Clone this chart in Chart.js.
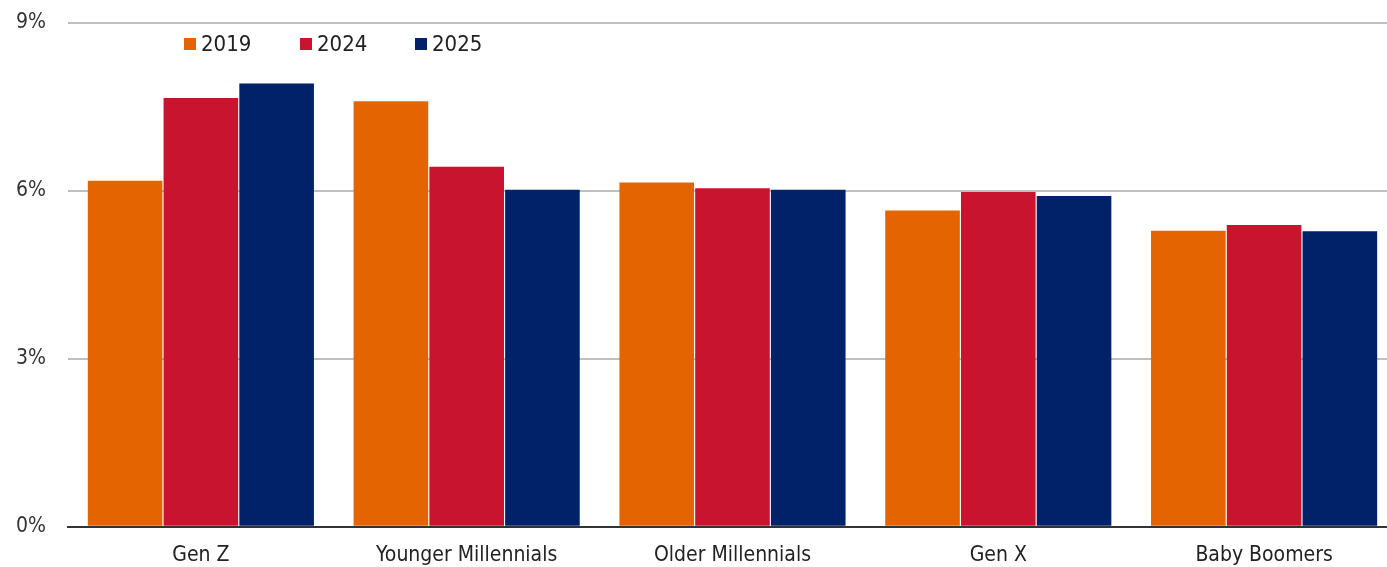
<!DOCTYPE html>
<html>
<head>
<meta charset="utf-8">
<script src="https://cdn.jsdelivr.net/npm/chart.js@4.4.1/dist/chart.umd.min.js"></script>
<style>
  html, body { margin: 0; padding: 0; background: #fff; overflow: hidden; }
  #wrap { position: relative; width: 1397px; height: 567px; }
</style>
</head>
<body>
<div id="wrap"><canvas id="graph"></canvas></div>
<script>
const categories = ["Gen Z", "Younger Millennials", "Older Millennials", "Gen X", "Baby Boomers"];
const years = ["2019", "2024", "2025"];
const values2019 = [6.18, 7.6, 6.15, 5.65, 5.29];
const values2024 = [7.66, 6.43, 6.05, 5.98, 5.39];
const values2025 = [7.92, 6.02, 6.02, 5.91, 5.28];
const yTicks = [0, 3, 6, 9];

const colors = ["#e36400", "#c8142f", "#012169"];
const fontFamily = "'Liberation Sans Narrow', 'DejaVu Sans Condensed', 'Noto Sans', sans-serif";

// legend row drawn inside the plot, left of centre
const topLegend = {
  id: "topLegend",
  afterDraw(chart) {
    const ctx = chart.ctx;
    const xs = [184, 300, 415];
    const y = 44;
    ctx.save();
    ctx.font = "22px " + fontFamily;
    ctx.textBaseline = "middle";
    chart.data.datasets.forEach((ds, i) => {
      ctx.fillStyle = ds.backgroundColor;
      ctx.fillRect(xs[i], y - 6, 12, 12);
      ctx.fillStyle = "#222";
      ctx.fillText(ds.label, xs[i] + 17, y + 1);
    });
    ctx.restore();
  },
};

const ctx = document.getElementById("graph").getContext("2d");

const chart = new Chart(ctx, {
  type: "bar",
  data: {
    labels: categories,
    datasets: [
      { label: years[0], backgroundColor: colors[0], data: values2019 },
      { label: years[1], backgroundColor: colors[1], data: values2024 },
      { label: years[2], backgroundColor: colors[2], data: values2025 },
    ],
  },
  options: {
    responsive: true,
    maintainAspectRatio: false,
    animation: false,
    layout: { padding: { top: 23, left: -6, right: 0, bottom: -17 } },
    datasets: {
      bar: { categoryPercentage: 0.855, barPercentage: 0.985 },
    },
    plugins: {
      legend: { display: false },
      tooltip: { enabled: false },
    },
    scales: {
      x: {
        grid: { display: false, drawTicks: false },
        border: { display: true, color: "#333", width: 2 },
        ticks: {
          padding: 16,
          color: "#222",
          font: { family: fontFamily, size: 21 },
        },
      },
      y: {
        min: 0,
        max: 9,
        afterBuildTicks(axis) {
          axis.ticks = yTicks.map((v) => ({ value: v }));
        },
        // keep the tick gap from pushing the plot down
        afterFit(axis) {
          axis.paddingTop = 0;
          axis.paddingBottom = 0;
        },
        grid: { color: "#bfbfbf", lineWidth: 2, drawTicks: false },
        border: { display: false },
        ticks: {
          padding: 22,
          color: "#333",
          font: { family: fontFamily, size: 21 },
          callback: (v) => v + "%",
        },
      },
    },
  },
  plugins: [topLegend],
});
</script>
</body>
</html>
